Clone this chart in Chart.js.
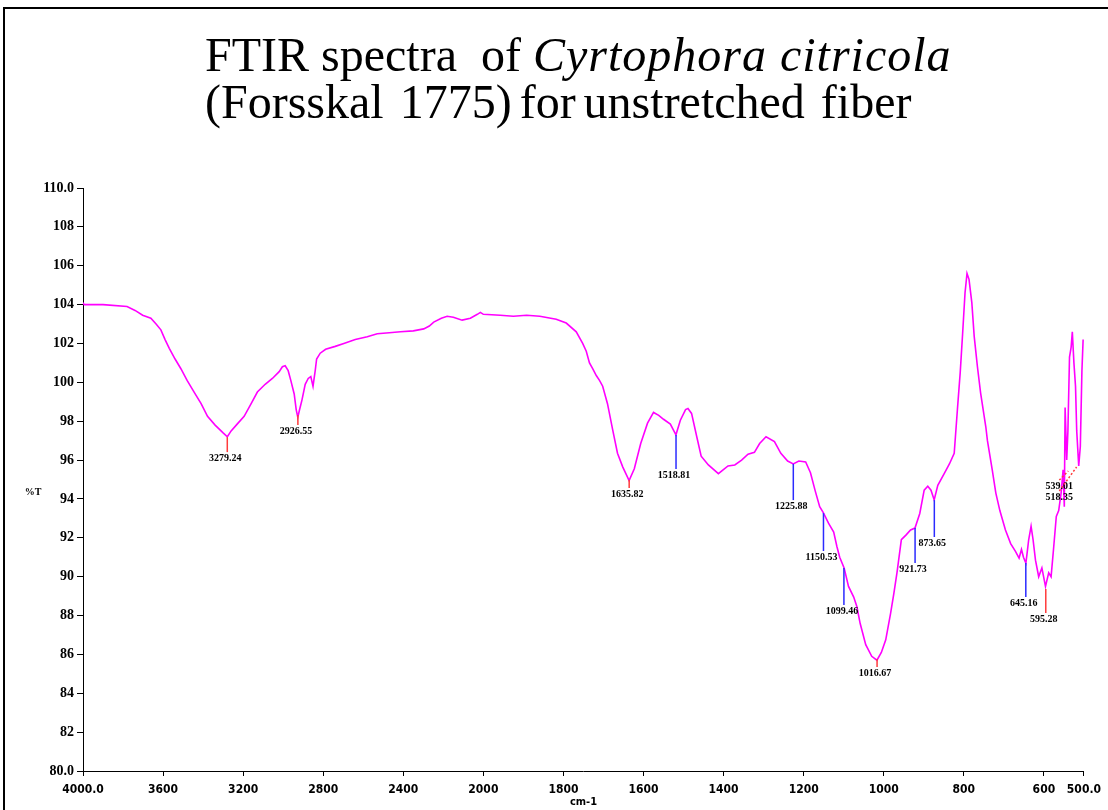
<!DOCTYPE html>
<html>
<head>
<meta charset="utf-8">
<script src="https://cdn.jsdelivr.net/npm/chart.js@4.4.1/dist/chart.umd.min.js"></script>
<style>
	body { margin: 0; background: #fff; }
	#wrap { position: relative; width: 1108px; height: 810px; overflow: hidden; }
	#frame { position: absolute; left: 3px; top: 7px; width: 1200px; height: 900px; border-left: 2px solid #000; border-top: 2px solid #000; }
	#title { position: absolute; left: 205px; top: 31px; font-family: "Liberation Serif", "Times New Roman", serif; font-size: 48px; line-height: 47px; color: #000; white-space: nowrap; }
	#title i { letter-spacing: 1px; }
	#title .second { word-spacing: -4px; }
	canvas { position: absolute; left: 0; top: 0; }
</style>
</head>
<body>
<div id="wrap">
	<div id="frame"></div>
	<canvas id="myChart" width="1108" height="810"></canvas>
	<div id="title">FTIR spectra&nbsp; of <i>Cyrtophora citricola</i><br><span class="second">(Forsskal&nbsp; 1775) for unstretched&nbsp; fiber</span></div>
</div>
<script>
// spectrum (cm-1 and %T)
const wavenumbers = [
	4000, 3994, 3900, 3780, 3740, 3702, 3661, 3635, 3611, 3590,
	3569, 3540, 3511, 3480, 3445, 3410, 3378, 3340, 3300, 3279,
	3260, 3230, 3195, 3160, 3129, 3090, 3054, 3020, 3004, 2990,
	2975, 2962, 2945, 2935, 2927, 2918, 2906, 2890, 2875, 2862,
	2851, 2840, 2833, 2815, 2788, 2740, 2697, 2640, 2580, 2530,
	2470, 2414, 2350, 2298, 2270, 2248, 2210, 2181, 2150, 2106,
	2065, 2030, 2015, 2000, 1958, 1925, 1892, 1859, 1818, 1793,
	1768, 1752, 1743, 1735, 1727, 1718, 1710, 1702, 1690, 1677,
	1665, 1652, 1636, 1623, 1607, 1590, 1575, 1562, 1550, 1533,
	1519, 1508, 1495, 1489, 1480, 1467, 1456, 1438, 1413, 1389,
	1372, 1355, 1339, 1323, 1310, 1294, 1273, 1257, 1240, 1226,
	1212, 1195, 1183, 1171, 1160, 1151, 1138, 1125, 1117, 1110,
	1099, 1088, 1075, 1067, 1059, 1045, 1030, 1017, 1006, 995,
	983, 975, 967, 956, 944, 933, 922, 910, 899, 890,
	882, 874, 865, 849, 836, 824, 816, 809, 803, 797,
	792, 787, 780, 774, 766, 758, 745, 741, 733, 729,
	720, 710, 696, 683, 671, 662, 656, 651, 645, 642,
	638, 632, 627, 621, 613, 605, 596, 588, 582, 576,
	569, 563, 557, 552, 549, 547, 543, 540, 536, 532,
	529, 525, 521, 518, 513, 509, 505, 502,
];
const transmittance = [
	104.1, 104.0, 104.0, 103.9, 103.7, 103.45, 103.3, 103.0, 102.7, 102.2,
	101.75, 101.2, 100.7, 100.1, 99.5, 98.9, 98.25, 97.8, 97.4, 97.2,
	97.5, 97.85, 98.25, 98.9, 99.5, 99.9, 100.2, 100.55, 100.8, 100.85,
	100.6, 100.1, 99.4, 98.6, 98.2, 98.6, 99.1, 99.9, 100.2, 100.3,
	99.8, 100.6, 101.2, 101.5, 101.7, 101.85, 102.0, 102.2, 102.35, 102.5,
	102.55, 102.6, 102.65, 102.75, 102.9, 103.1, 103.3, 103.4, 103.35, 103.2,
	103.3, 103.5, 103.6, 103.5, 103.45, 103.4, 103.45, 103.4, 103.25, 103.05,
	102.6, 102.0, 101.6, 101.0, 100.7, 100.35, 100.1, 99.8, 98.9, 97.55,
	96.35, 95.65, 94.95, 95.55, 96.85, 97.9, 98.45, 98.3, 98.1, 97.85,
	97.3, 98.05, 98.6, 98.65, 98.4, 97.2, 96.2, 95.75, 95.3, 95.7,
	95.75, 96.0, 96.3, 96.4, 96.85, 97.2, 96.95, 96.35, 95.95, 95.8,
	95.95, 95.9, 95.35, 94.4, 93.6, 93.3, 92.75, 92.3, 91.55, 91.0,
	90.45, 89.5, 88.95, 88.45, 87.6, 86.5, 85.9, 85.7, 86.1, 86.75,
	88.1, 89.1, 90.2, 91.9, 92.15, 92.4, 92.5, 93.25, 94.45, 94.65,
	94.45, 93.95, 94.7, 95.3, 95.8, 96.35, 98.6, 100.5, 102.5, 104.6,
	105.6, 105.3, 104.1, 102.35, 100.8, 99.45, 97.7, 97.0, 96.0, 95.5,
	94.3, 93.4, 92.4, 91.7, 91.3, 90.95, 91.4, 91.0, 90.7, 91.2,
	91.9, 92.6, 91.9, 90.85, 90.0, 90.45, 89.5, 90.2, 90.0, 91.4,
	93.1, 93.4, 94.3, 95.5, 93.6, 98.7, 96.0, 97.5, 101.3, 101.8,
	102.6, 101.0, 99.8, 97.5, 95.7, 96.7, 100.6, 102.2,
];

// picked peaks: wavenumber, %T where the marker starts, %T where it ends
const peakWavenumbers = [3279.24, 2926.55, 1635.82, 1518.81, 1225.88, 1150.53, 1099.46, 1016.67, 921.73, 873.65, 645.16, 595.28, 539.01, 518.35];
const peakTopT = [97.18, 98.32, 94.97, 97.29, 95.8, 93.27, 90.44, 85.76, 92.5, 93.94, 90.7, 89.36, 95.44, 95.64];
const peakEndT = [96.41, 97.8, 94.56, 95.54, 93.94, 91.32, 88.54, 85.35, 90.7, 92.04, 88.95, 88.13, 94.97, 94.41];
const peakKinds = ["band", "band", "band", "shoulder", "shoulder", "shoulder", "shoulder", "band", "shoulder", "shoulder", "shoulder", "band", "close", "close"];

const xTickValues = [4000, 3600, 3200, 2800, 2400, 2000, 1800, 1600, 1400, 1200, 1000, 800, 600, 500];
const yMin = 80;
const yMax = 110;
const yStep = 2;

// x axis of the spectrometer: scale doubles below 2000 cm-1
class FtirScale extends Chart.LinearScale {
	buildTicks() {
		return xTickValues.map((v) => ({ value: v }));
	}
	toDecimal(v) {
		if (v >= 2000) return ((4000 - v) / 2000) * 0.4;
		return 0.4 + ((2000 - v) / 1500) * 0.6;
	}
	getPixelForValue(value) {
		return this.getPixelForDecimal(this.toDecimal(value));
	}
	getValueForPixel(pixel) {
		const d = this.getDecimalForPixel(pixel);
		return d <= 0.4 ? 4000 - (d / 0.4) * 2000 : 2000 - ((d - 0.4) / 0.6) * 1500;
	}
}
FtirScale.id = "ftir";
FtirScale.defaults = Chart.LinearScale.defaults;
Chart.register(FtirScale);

const peakMarks = {
	id: "peakMarks",
	afterDatasetsDraw(chart) {
		const { ctx, chartArea } = chart;
		const x = chart.scales.x;
		const y = chart.scales.y;
		ctx.save();
		ctx.fillStyle = "#000";
		ctx.textAlign = "center";
		ctx.textBaseline = "top";
		ctx.font = 'bold 10px "Liberation Serif", serif';
		const leaderX = x.getPixelForValue(peakWavenumbers[peakKinds.indexOf("close")]) - 11;
		peakWavenumbers.forEach((wn, i) => {
			const px = x.getPixelForValue(wn);
			const y1 = y.getPixelForValue(peakTopT[i]);
			const y2 = y.getPixelForValue(peakEndT[i]);
			const label = wn.toFixed(2);
			ctx.lineWidth = 1.5;
			if (peakKinds[i] === "close") {
				ctx.strokeStyle = "#ff3b3b";
				ctx.setLineDash([2, 2]);
				ctx.beginPath();
				ctx.moveTo(leaderX + 2, y2);
				ctx.lineTo(px, y1);
				ctx.stroke();
				ctx.setLineDash([]);
				ctx.fillText(label, leaderX + 2, y2 + 1);
			} else {
				ctx.strokeStyle = peakKinds[i] === "band" ? "#ff3b3b" : "#2b2bff";
				ctx.beginPath();
				ctx.moveTo(px, y1);
				ctx.lineTo(px, y2);
				ctx.stroke();
				ctx.fillText(label, px - 2, y2 + 1);
			}
		});
		// %T, written level beside the y axis
		ctx.font = 'bold 10px "Liberation Serif", serif';
		ctx.textBaseline = "middle";
		ctx.fillText("%T", chartArea.left - 50, (chartArea.top + chartArea.bottom) / 2 + 13);
		ctx.restore();
	},
};

const ctx = document.getElementById("myChart");
const myChart = new Chart(ctx, {
	type: "line",
	data: {
		datasets: [
			{
				label: "unstretched fiber",
				data: wavenumbers.map((w, i) => ({ x: w, y: transmittance[i] })),
				borderColor: "#ff00ff",
				borderWidth: 1.6,
				pointRadius: 0,
				tension: 0,
				fill: false,
			},
		],
	},
	options: {
		responsive: false,
		animation: false,
		devicePixelRatio: 1,
		layout: { padding: { left: 0, right: 21, top: 188, bottom: 0 } },
		plugins: {
			legend: { display: false },
			tooltip: { enabled: false },
		},
		scales: {
			x: {
				type: "ftir",
				position: "bottom",
				min: 500,
				max: 4000,
				ticks: {
					autoSkip: false,
					maxRotation: 0,
					color: "#000",
					padding: 7,
					font: { family: "'Liberation Sans Narrow', 'DejaVu Sans Condensed', sans-serif", size: 12, weight: "bold" },
					callback: (v) => (v === 4000 || v === 500 ? v.toFixed(1) : v),
				},
				grid: { drawOnChartArea: false, tickLength: 5, color: "#000" },
				border: { color: "#000", width: 1 },
				title: {
					display: true,
					text: "cm-1",
					color: "#000",
					padding: { top: 0, bottom: 1 },
					font: { family: "'Liberation Sans Narrow', 'DejaVu Sans Condensed', sans-serif", size: 11, weight: "bold" },
				},
				afterFit: (scale) => {
					scale.height = 39;
				},
			},
			y: {
				min: yMin,
				max: yMax,
				ticks: {
					stepSize: yStep,
					color: "#000",
					padding: 3,
					font: { family: "'Liberation Serif', serif", size: 14, weight: "bold" },
					callback: (v) => (v === yMin || v === yMax ? v.toFixed(1) : v),
				},
				grid: { drawOnChartArea: false, tickLength: 6, color: "#000" },
				border: { color: "#000", width: 1 },
				afterFit: (scale) => {
					scale.width = 83;
				},
			},
		},
	},
	plugins: [peakMarks],
});
</script>
</body>
</html>
